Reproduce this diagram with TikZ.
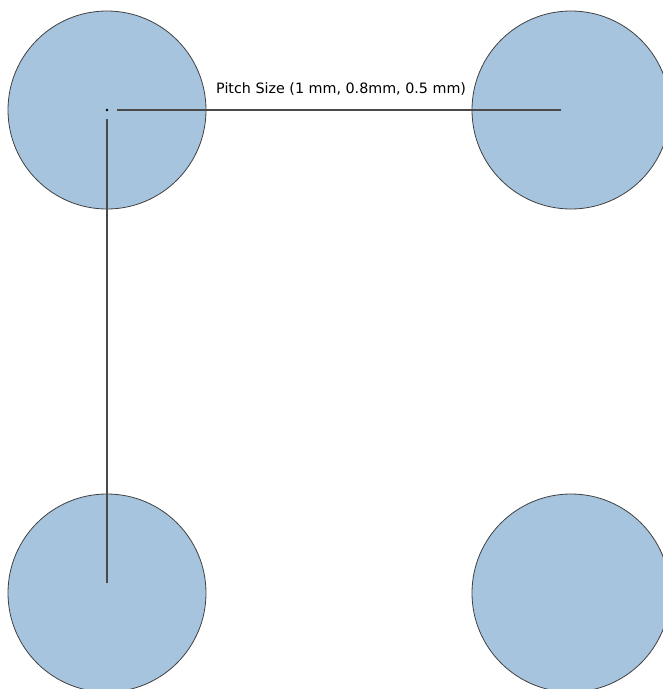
\documentclass[tikz,border=0pt]{standalone}
\usepackage{fontspec}
\setmainfont{DejaVu Sans}
\definecolor{padblue}{HTML}{A7C4DE}
\definecolor{edgegray}{HTML}{404040}
\definecolor{linegray}{HTML}{4A4A4A}
\begin{document}
\begin{tikzpicture}[x=1pt,y=-1pt,
  pad/.style={circle,draw=edgegray,fill=padblue,line width=0.8pt,minimum size=198pt,inner sep=0pt},
  dim/.style={draw=linegray,line width=1.3pt},
  lbl/.style={inner sep=0pt,anchor=base west,font=\fontsize{14.3}{17}\selectfont}]
\useasboundingbox (0,0) rectangle (663,689);
\begin{scope}
\clip (0,0) rectangle (663,689);
\node[pad] (tl) at (107,110) {};
\node[pad] (tr) at (571,110) {};
\node[pad] (bl) at (107,593) {};
\node[pad] (br) at (571,593) {};
\coordinate (hs) at (117,110);
\coordinate (he) at (561,110);
\coordinate (vs) at (107,119);
\coordinate (ve) at (107,583);
\draw[dim] (hs) -- (he);
\draw[dim] (vs) -- (ve);
\fill[black] (tl.center) circle (1.3pt);
\node[lbl] (t) at (216,93.5) {Pitch Size (1 mm, 0.8mm, 0.5 mm)};
\end{scope}
\end{tikzpicture}
\end{document}
